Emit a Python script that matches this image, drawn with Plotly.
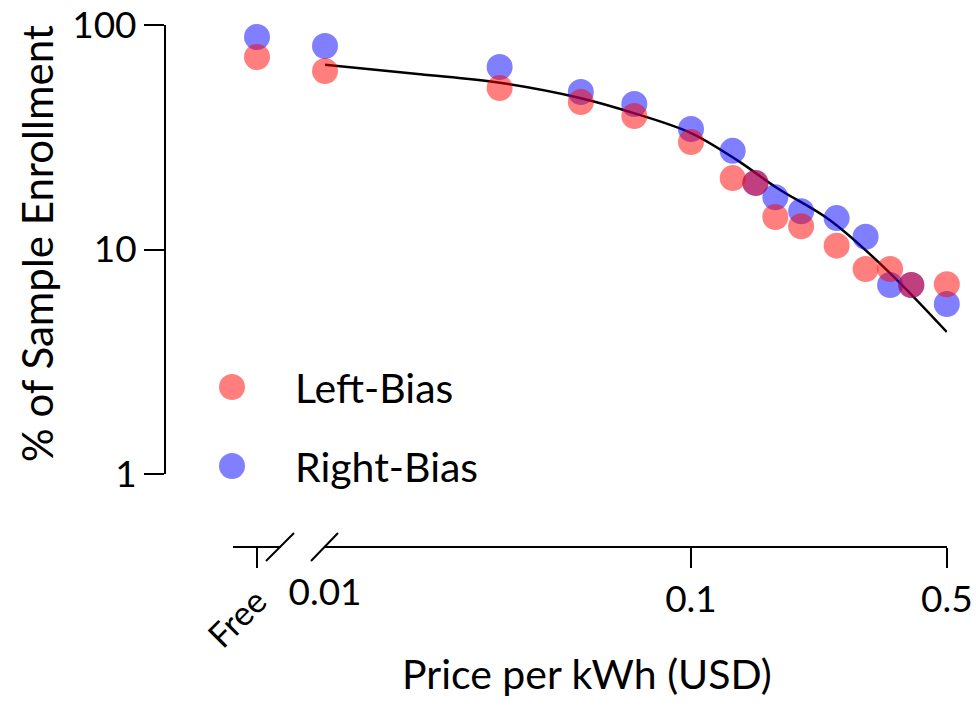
import plotly.graph_objects as go
import math

# ---- data ----
free_label = ["Free"]
left_free = [72.0]
right_free = [88.4]

price = [0.01, 0.03, 0.05, 0.07, 0.1, 0.13, 0.15, 0.17, 0.2, 0.25, 0.3, 0.35, 0.4, 0.5]
left_bias = [62.4, 52.4, 45.4, 39.3, 30.1, 20.8, 19.8, 13.95, 12.7, 10.4, 8.19, 8.19, 6.95, 7.0]
right_bias = [80.6, 65.0, 50.3, 44.5, 34.4, 27.5, 19.8, 17.1, 14.8, 13.8, 11.4, 6.95, 6.95, 5.72]

fit_x = [0.01, 0.0182, 0.030, 0.0497, 0.0694, 0.1, 0.1336, 0.1718, 0.2398, 0.343, 0.5]
fit_y = [66.5, 60.4, 55.3, 47.3, 40.6, 33.0, 25.0, 18.8, 13.5, 8.1, 4.29]

x_tick_vals = [0.1, 0.5]
x_tick_text = ["0.1", "0.5"]
y_tick_vals = [1, 10, 100]
y_tick_text = ["1", "10", "100"]

RED = "rgba(255,0,0,0.5)"
BLUE = "rgba(0,0,255,0.5)"
FONT = "Lato"
W, H = 976, 707
ML, MR, MT, MB = 165, 29, 25, 160
PW, PH = W - ML - MR, H - MT - MB

def px(x):
    return (x - ML) / PW

def py(y):
    return (H - MB - y) / PH

fig = go.Figure()
msize = 26

# free points
fig.add_trace(go.Scatter(x=free_label, y=right_free, xaxis="x2", yaxis="y", mode="markers",
                         marker=dict(size=msize, color=BLUE), cliponaxis=False, showlegend=False))
fig.add_trace(go.Scatter(x=free_label, y=left_free, xaxis="x2", yaxis="y", mode="markers",
                         marker=dict(size=msize, color=RED), cliponaxis=False, showlegend=False))
# fit curve
fig.add_trace(go.Scatter(x=fit_x, y=fit_y, mode="lines", line=dict(color="black", width=2.5, shape="spline"),
                         cliponaxis=False, showlegend=False))
# main points
fig.add_trace(go.Scatter(x=price, y=right_bias, mode="markers", name="Right-Bias",
                         marker=dict(size=msize, color=BLUE), cliponaxis=False, showlegend=False))
fig.add_trace(go.Scatter(x=price, y=left_bias, mode="markers", name="Left-Bias",
                         marker=dict(size=msize, color=RED), cliponaxis=False, showlegend=False))

ydom0 = py(474)
xmain0 = px(325)
fr0, fr1 = px(233), px(281)
xrange_main = [-2, -0.3005]

TICK = 37
fig.update_layout(
    width=W, height=H,
    margin=dict(l=ML, r=MR, t=MT, b=MB, autoexpand=False),
    plot_bgcolor="white", paper_bgcolor="white",
    font=dict(family=FONT, size=TICK, color="black"),
    xaxis=dict(type="log", domain=[xmain0, 1], range=xrange_main, automargin=False,
               anchor="free", position=0, showline=True, linewidth=2, linecolor="black",
               showgrid=False, zeroline=False, ticks="outside", ticklen=20, tickwidth=2,
               tickcolor="black", tickvals=x_tick_vals, ticktext=x_tick_text,
               tickfont=dict(size=TICK)),
    xaxis3=dict(type="log", domain=[xmain0, 1], range=xrange_main, overlaying="x",
                anchor="free", position=0, side="bottom", showline=False, showgrid=False,
                zeroline=False, ticks="", tickvals=[0.01], ticktext=["0.01"], automargin=False,
                ticklabelstandoff=20, tickfont=dict(size=TICK)),
    xaxis2=dict(type="category", domain=[fr0, fr1], range=[-1, 1], automargin=False,
                anchor="free", position=0, showline=True, linewidth=2, linecolor="black",
                showgrid=False, zeroline=False, ticks="outside", ticklen=20, tickwidth=2,
                tickcolor="black", tickangle=-45, tickfont=dict(size=34)),
    yaxis=dict(type="log", domain=[ydom0, 1], range=[0, 2], anchor="free", position=0,
               automargin=False,
               showline=True, linewidth=2, linecolor="black", showgrid=False, zeroline=False,
               ticks="outside", ticklen=20, tickwidth=2, tickcolor="black",
               tickvals=y_tick_vals, ticktext=y_tick_text, tickfont=dict(size=TICK)),
    showlegend=False,
)

# dummy trace to activate x3
fig.add_trace(go.Scatter(x=[0.01], y=[None], xaxis="x3", yaxis="y", showlegend=False, hoverinfo="skip"))

shapes = []
for (a, b) in [((266, 561), (294, 533)), ((311, 561), (338, 533))]:
    shapes.append(dict(type="line", xref="paper", yref="paper", x0=px(a[0]), y0=py(a[1]),
                       x1=px(b[0]), y1=py(b[1]), line=dict(color="black", width=2)))
r = 13
for cy, col in [(387, RED), (466, BLUE)]:
    shapes.append(dict(type="circle", xref="paper", yref="paper", x0=px(232 - r), x1=px(232 + r),
                       y0=py(cy + r), y1=py(cy - r), fillcolor=col, line=dict(width=0)))
fig.update_layout(shapes=shapes)

ann = [
    dict(text="Left-Bias", x=px(293), y=py(387), xref="paper", yref="paper", xanchor="left",
         yanchor="middle", showarrow=False, font=dict(size=41)),
    dict(text="Right-Bias", x=px(293), y=py(466), xref="paper", yref="paper", xanchor="left",
         yanchor="middle", showarrow=False, font=dict(size=41)),
    dict(text="Price per kWh (USD)", x=px(587), y=py(673), xref="paper", yref="paper",
         xanchor="center", yanchor="middle", showarrow=False, font=dict(size=41)),
    dict(text="% of Sample Enrollment", x=px(37), y=py(244), xref="paper", yref="paper",
         xanchor="center", yanchor="middle", textangle=-90, showarrow=False, font=dict(size=42)),
]
fig.update_layout(annotations=ann)

fig.write_html("out.html")
